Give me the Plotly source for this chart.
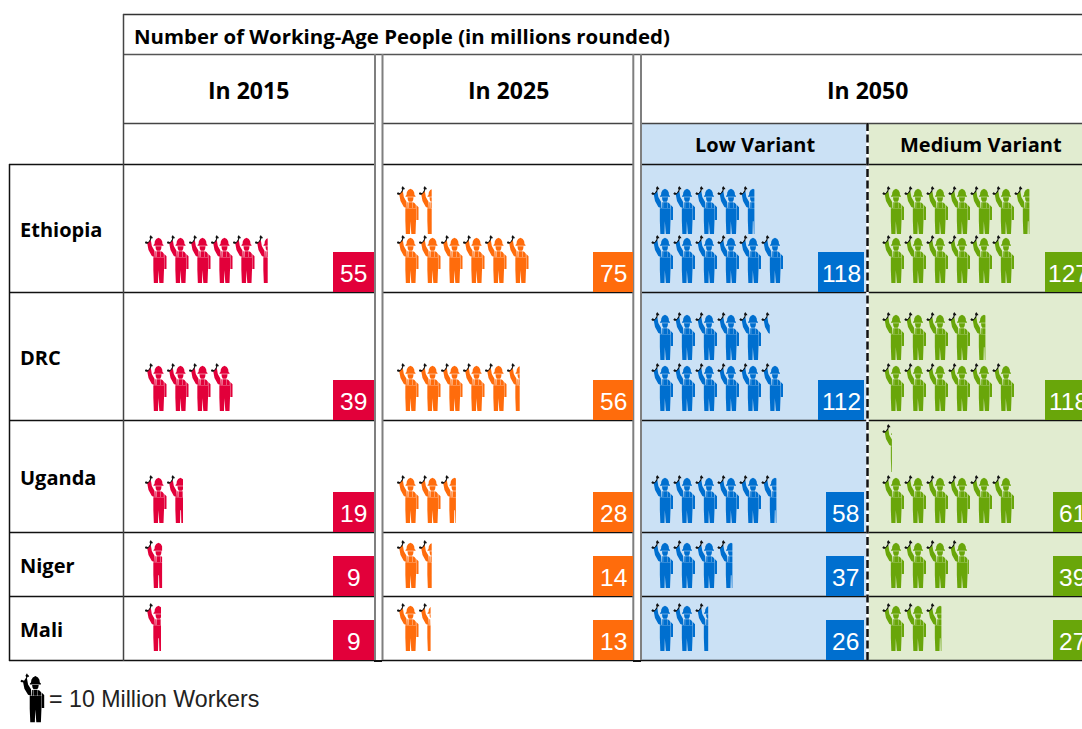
import plotly.graph_objects as go

# ---------- data ----------
countries = ["Ethiopia", "DRC", "Uganda", "Niger", "Mali"]
periods = ["In 2015", "In 2025", "In 2050"]
variants = ["Low Variant", "Medium Variant"]
title_text = "Number of Working-Age People (in millions rounded)"
legend_text = "= 10 Million Workers"

values_2015 = [55, 39, 19, 9, 9]
values_2025 = [75, 56, 28, 14, 13]
values_low = [118, 112, 58, 37, 26]
values_medium = [127, 118, 61, 39, 27]

# number of worker icons drawn in each cell
icons_2015 = [5.6, 4.0, 1.75, 0.8, 0.75]
icons_2025 = [7.6, 5.6, 2.7, 1.6, 1.55]
icons_low = [10.7, 11.4, 5.7, 3.7, 2.6]
icons_medium = [12.7, 10.7, 6.45, 3.95, 2.7]

RED, ORANGE, BLUE, GREEN = "#e2003a", "#ff6c0c", "#006fcf", "#69a60a"
LIGHT_BLUE, LIGHT_GREEN = "#cbe1f5", "#e1ecd0"
BOLD_FONT = "Open Sans"

row_edges = [164, 292, 420, 532, 596, 660]
row_label_y = [229, 357, 477, 565, 629]
icon_bottom = [283, 411, 523, 588, 651]
icon_top2 = [234, 360, 472, 0, 0]

panels = [
    dict(vals=values_2015, icons=icons_2015, color=RED, x0=144.5, right=374, wide=41),
    dict(vals=values_2025, icons=icons_2025, color=ORANGE, x0=396.5, right=633, wide=40),
    dict(vals=values_low, icons=icons_low, color=BLUE, x0=651, right=864, wide=38),
    dict(vals=values_medium, icons=icons_medium, color=GREEN, x0=882, right=1091, wide=38),
]

# ---------- icon (22 x 47 px design box) ----------
def z(pts):
    return [((a - 15) / 3, (b - 165) / 3) for a, b in pts]

helmet = z([(42, 196), (45, 193), (46, 185), (50, 178), (57, 174), (64, 178), (68, 185), (69, 193), (72, 196), (72, 198.5), (42, 198.5)])
face = z([(48, 200), (66, 200), (65, 208), (62, 213), (52, 213), (49, 208)])
arm = z([(23, 190), (34, 181), (37, 199), (45, 213), (46, 233), (37, 229), (27, 211)])
shoulder_l = z([(47.5, 215), (50, 215), (50.5, 232), (47.5, 232)])
bib = z([(51.5, 215), (63, 215), (63, 232), (51.5, 232)])
shoulder_r = z([(64, 215), (69, 217), (73, 222), (73, 232), (64, 232)])
trousers = z([(41.5, 233), (73.5, 233), (73.5, 270), (72, 310), (59.5, 310), (58.5, 272), (56.5, 272), (55.5, 310), (43, 310), (41.5, 270)])
forearm = z([(74.5, 223), (81, 230), (81, 268), (74.5, 268)])
worker_parts = [helmet, face, arm, shoulder_l, bib, shoulder_r, trousers, forearm]
wrench_parts = [z([(16, 189), (19, 185), (26, 188), (32, 178), (30, 172), (34, 166), (36, 170), (39, 172), (40, 176), (36, 176), (33, 183), (24, 192), (19, 192)])]


def clip(poly, xmax):
    out = []
    for i, p in enumerate(poly):
        q = poly[(i + 1) % len(poly)]
        if p[0] <= xmax:
            out.append(p)
        if (p[0] <= xmax) != (q[0] <= xmax):
            t = (xmax - p[0]) / (q[0] - p[0])
            out.append((xmax, p[1] + t * (q[1] - p[1])))
    return out


def add_icon(xs, ys, parts, left, top, frac, sx=1.0, sy=1.0):
    for poly in parts:
        c = clip(poly, frac * 22)
        if len(c) < 3:
            continue
        for a, b in c + c[:1]:
            xs.append(left + a * sx)
            ys.append(top + b * sy)
        xs.append(None)
        ys.append(None)


def fill_trace(xs, ys, color):
    return go.Scatter(x=xs, y=ys, mode="lines", fill="toself", fillcolor=color,
                      line=dict(width=0, color=color), hoverinfo="skip", showlegend=False)


fig = go.Figure()
shapes = []
annotations = []


def rect(x0, y0, x1, y1, color):
    shapes.append(dict(type="rect", x0=x0, y0=y0, x1=x1, y1=y1, fillcolor=color, line=dict(width=0), layer="below"))


def line(x0, y0, x1, y1, color="#111111", width=1.5, dash="solid"):
    shapes.append(dict(type="line", x0=x0, y0=y0, x1=x1, y1=y1, line=dict(color=color, width=width, dash=dash), layer="below"))


def text(x, y, s, size, color="black", bold=False, anchor="center", family="Liberation Sans"):
    annotations.append(dict(x=x, y=y, text=f"<b>{s}</b>" if bold else s, showarrow=False, xanchor=anchor, yanchor="middle",
                            font=dict(family=family, size=size, color=color)))


def hrule(y, start, color):
    for a, b in ((start, 375), (382, 633), (641, 1082)):
        line(a, y, b, y, color)


# cell fills
rect(641, 123, 867, 660, LIGHT_BLUE)
rect(868, 123, 1082, 660, LIGHT_GREEN)

# horizontal rules
line(123, 14.5, 1082, 14.5, "#333333")
line(123, 54.5, 1082, 54.5, "#555555")
hrule(123.5, 123, "#444444")
for yy in row_edges:
    hrule(yy + 0.5, 9, "#111111")

# vertical rules
line(9.5, 164, 9.5, 661, "#111111")
line(123.5, 14, 123.5, 661, "#444444")
for xx in (375, 382.5, 633.3, 641):
    line(xx, 54, xx, 660, "#7f7f7f", 2)
for xx in (374, 633):
    rect(xx, 660, xx + 8, 662, "#111111")
line(867.5, 123, 867.5, 660, "#ffffff", 2.5)
line(867.5, 123, 867.5, 660, "#111111", 2.5, "8px,3.5px")

# badges
for p in panels:
    for i, v in enumerate(p["vals"]):
        w = p["wide"]
        if v >= 100:
            w += 8
        bottom = row_edges[i + 1]
        rect(p["right"] - w, bottom - 40, p["right"], bottom, p["color"])
        text(p["right"] - w / 2, bottom - 19, str(v), 24.5, "white")

# worker icons
blk_x, blk_y = [], []
for p in panels:
    xs, ys = [], []
    for i, n in enumerate(p["icons"]):
        lower = min(n, 6.0)
        upper = max(n - 6.0, 0.0)
        for row_n, bot in ((lower, icon_bottom[i]), (upper, icon_top2[i])):
            k = 0
            while row_n - k > 0:
                frac = min(row_n - k, 1.0)
                left = p["x0"] + k * 22
                top = bot - 48.33
                add_icon(xs, ys, worker_parts, left, top, frac)
                add_icon(blk_x, blk_y, wrench_parts, left, top, frac)
                k += 1
    fig.add_trace(fill_trace(xs, ys, p["color"]))
fig.add_trace(fill_trace(blk_x, blk_y, "#111111"))

# legend icon
lx, ly = [], []
add_icon(lx, ly, worker_parts + wrench_parts, 20, 673, 1.0, 1.1, 1.02)
fig.add_trace(fill_trace(lx, ly, "#000000"))

# text
text(132, 36, title_text, 20.4, bold=True, anchor="left", family=BOLD_FONT)
text(248.5, 89.5, periods[0], 23, bold=True, family=BOLD_FONT)
text(508, 89.5, periods[1], 23, bold=True, family=BOLD_FONT)
text(867.5, 89.5, periods[2], 23, bold=True, family=BOLD_FONT)
text(754.5, 144.5, variants[0], 20, bold=True, family=BOLD_FONT)
text(981, 144.5, variants[1], 20, bold=True, family=BOLD_FONT)
for name, yy in zip(countries, row_label_y):
    text(18, yy, name, 20, bold=True, anchor="left", family=BOLD_FONT)
text(47, 699, legend_text, 23.2, color="#222222", anchor="left")

fig.update_layout(
    width=1082, height=729, margin=dict(l=0, r=0, t=0, b=0),
    paper_bgcolor="white", plot_bgcolor="white", showlegend=False,
    xaxis=dict(range=[0, 1082], visible=False, fixedrange=True),
    yaxis=dict(range=[729, 0], visible=False, fixedrange=True),
    shapes=shapes, annotations=annotations,
)
fig.write_html("out.html", config=dict(displayModeBar=False),
               post_script="document.body.style.margin='0';document.documentElement.style.overflow='hidden';")
